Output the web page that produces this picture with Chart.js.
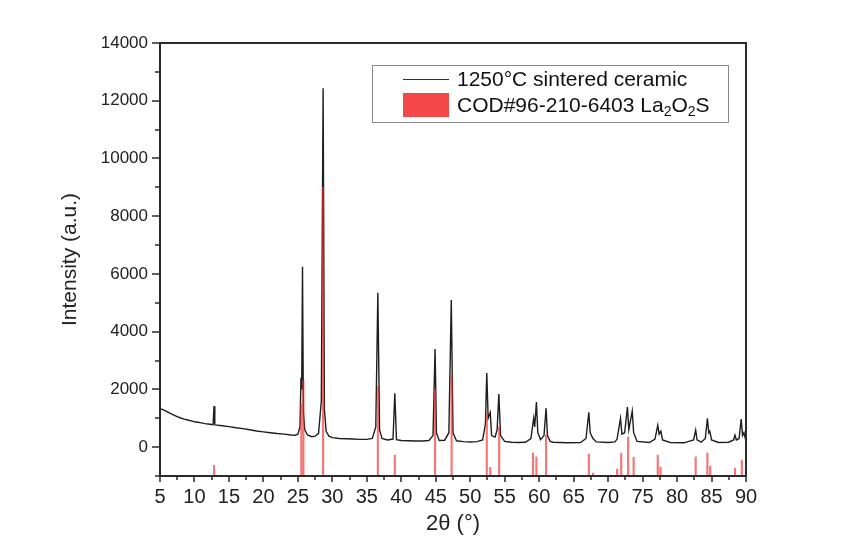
<!DOCTYPE html>
<html>
<head>
<meta charset="utf-8"/>
<script src="https://cdn.jsdelivr.net/npm/chart.js@4.4.1/dist/chart.umd.min.js"></script>
<style>
  body { margin: 0; background: #fff; }
</style>
</head>
<body>
<canvas id="chart" width="853" height="549"></canvas>
<script>
// measured XRD profile (2theta, counts)
var profileAngle = [5, 5.5, 6, 6.5, 7, 7.5, 8, 8.5, 9, 9.5, 10, 10.5, 11, 11.5, 12, 12.5, 12.7, 12.84, 12.95, 13, 14, 15, 16, 17, 18, 19, 20, 21, 22, 23, 24, 24.6,
  25.0, 25.3, 25.45, 25.55, 25.67, 25.8, 26.0, 26.4, 27, 27.5, 28.0, 28.4, 28.66, 28.85, 29.1, 29.5, 30, 31, 32, 33, 34, 35, 35.8, 36.3, 36.6, 36.85, 37.2, 38, 38.8,
  39.06, 39.3, 40, 41, 42, 43, 44, 44.6, 44.9, 45.1, 45.5, 46.3, 46.9, 47.25, 47.5, 48, 49, 50, 51, 51.8, 52.2, 52.4, 52.6, 52.9, 53.1, 53.6, 53.9, 54.15, 54.4,
  55, 56, 57, 58, 58.8, 59.2, 59.35, 59.6, 59.8, 60.2, 60.7, 61.0, 61.2, 61.6, 62, 64, 66, 66.8, 67.2, 67.4, 67.8, 68.3, 70, 71, 71.3, 71.8, 72.0, 72.4, 72.8,
  73.0, 73.5, 73.7, 74.2, 76, 76.8, 77.2, 77.4, 77.65, 77.9, 79, 81, 82.4, 82.7, 82.9, 83.5, 84.1, 84.4, 84.6, 84.75, 85, 86, 87.5, 88.2, 88.4, 88.6, 89.0, 89.3,
  89.5, 89.7, 90];
var profileCounts = [1330, 1290, 1230, 1170, 1110, 1060, 1010, 970, 940, 910, 880, 860, 840, 815, 800, 785, 780, 1420, 780, 770, 740, 710, 670, 640, 600, 560, 530, 500, 470, 450, 420, 410,
  450, 700, 2400, 2000, 6250, 1200, 600, 420, 360, 380, 480, 1600, 12430, 1300, 550, 380, 330, 300, 290, 280, 270, 270, 300, 700, 5350, 600, 300, 250, 280,
  1870, 260, 230, 220, 210, 210, 230, 400, 3400, 500, 230, 240, 500, 5100, 500, 220, 190, 180, 190, 250, 800, 2570, 1000, 1200, 400, 350, 600, 1840, 400,
  200, 170, 160, 170, 300, 1000, 700, 1560, 500, 260, 400, 1350, 400, 200, 170, 150, 160, 300, 1210, 500, 300, 180, 160, 180, 280, 1000, 450, 500, 1390,
  600, 1250, 500, 200, 160, 280, 760, 450, 550, 250, 160, 150, 250, 590, 250, 170, 300, 1000, 500, 550, 250, 160, 170, 250, 420, 250, 300, 970,
  400, 500, 200];

// reference card COD#96-210-6403 (2theta, top of stick; sticks start at the axis floor)
var refAngle = [12.84, 25.5, 25.8, 28.66, 36.6, 39.06, 44.9, 47.3, 52.4, 52.9, 54.2, 59.1, 59.6, 61.0, 67.2, 67.8, 71.3, 71.9, 72.9, 73.7, 77.2, 77.6, 82.7, 84.4, 84.8, 88.4, 89.4];
var refTop = [-630, 1500, 2300, 9000, 2100, -280, 2000, 2500, 1200, -700, 700, -200, -340, 420, -240, -900, -760, -210, 350, -350, -280, -690, -340, -210, -660, -730, -450];
var refFloor = -1000;

var xTicks = [5, 90, 5];          // min, max, step
var yTicks = [-1000, 14000, 1000]; // min, max, step
var seriesNames = ['1250\u00b0C sintered ceramic', 'COD#96-210-6403 La'];
var xTitle = '2\u03b8 (\u00b0)';
var yTitle = 'Intensity (a.u.)';

var profile = profileAngle.map(function (a, i) { return {x: a, y: profileCounts[i]}; });
var sticks = refAngle.map(function (a, i) { return {x: a, y: [refFloor, refTop[i]]}; });

var framePlugin = {
  id: 'frame',
  afterDatasetsDraw: function (chart) {
    var ctx = chart.ctx, a = chart.chartArea, x = chart.scales.x, y = chart.scales.y;
    ctx.save();
    ctx.strokeStyle = '#2a2a2a';
    ctx.lineWidth = 2;
    ctx.strokeRect(a.left, a.top, a.right - a.left, a.bottom - a.top);
    ctx.lineWidth = 1.5;
    ctx.beginPath();
    for (var v = yTicks[0]; v <= yTicks[1]; v += yTicks[2]) {
      var py = Math.round(y.getPixelForValue(v));
      var len = v % 2000 === 0 ? 8 : 5;
      ctx.moveTo(a.left - len, py);
      ctx.lineTo(a.left, py);
    }
    for (var u = xTicks[0]; u <= xTicks[1]; u += 2.5) {
      var px = Math.round(x.getPixelForValue(u));
      var l2 = u % 5 === 0 ? 6 : 4;
      ctx.moveTo(px, a.bottom);
      ctx.lineTo(px, a.bottom + l2);
    }
    ctx.stroke();

    // legend
    ctx.strokeStyle = '#8a8a8a';
    ctx.lineWidth = 1;
    ctx.strokeRect(372.5, 65.5, 356, 57);
    ctx.strokeStyle = '#333';
    ctx.beginPath();
    ctx.moveTo(403, 79.5);
    ctx.lineTo(449, 79.5);
    ctx.stroke();
    ctx.fillStyle = '#f44848';
    ctx.fillRect(403, 93, 46, 24);
    ctx.fillStyle = '#111';
    ctx.textBaseline = 'middle';
    ctx.font = '21px "Liberation Sans"';
    ctx.fillText(seriesNames[0], 457, 80);
    var tx = 457, ty = 106;
    ctx.fillText(seriesNames[1], tx, ty);
    tx += ctx.measureText(seriesNames[1]).width;
    var parts = [['2', 1], ['O', 0], ['2', 1], ['S', 0]];
    parts.forEach(function (p) {
      ctx.font = p[1] ? '14px "Liberation Sans"' : '21px "Liberation Sans"';
      ctx.fillText(p[0], tx, p[1] ? ty + 6 : ty);
      tx += ctx.measureText(p[0]).width;
    });
    ctx.restore();
  }
};

Chart.defaults.font.family = '"Liberation Sans", Arial, sans-serif';
Chart.defaults.color = '#222';

new Chart(document.getElementById('chart'), {
  type: 'line',
  data: {
    datasets: [{
      type: 'bar',
      label: seriesNames[1],
      data: sticks,
      backgroundColor: 'rgba(238,45,45,0.65)',
      borderWidth: 0,
      barThickness: 1.5,
      grouped: false,
      order: 0
    }, {
      type: 'line',
      label: seriesNames[0],
      data: profile,
      borderColor: '#1e1e1e',
      borderWidth: 1.4,
      pointRadius: 0,
      tension: 0,
      fill: false,
      order: 1
    }]
  },
  options: {
    responsive: false,
    animation: false,
    layout: { padding: { left: 0, top: 43, right: 107, bottom: 0 } },
    plugins: { legend: { display: false }, tooltip: { enabled: false } },
    scales: {
      x: {
        type: 'linear',
        offset: false,
        min: xTicks[0], max: xTicks[1],
        grid: { display: false, drawTicks: false, offset: false },
        border: { display: false },
        ticks: { stepSize: xTicks[2], autoSkip: false, padding: 9, font: { size: 20 }, maxRotation: 0 },
        title: { display: true, text: xTitle, font: { size: 22 }, padding: { top: 0, bottom: 12 } },
        afterFit: function (s) { s.height = 73; }
      },
      y: {
        type: 'linear',
        min: yTicks[0], max: yTicks[1],
        grid: { display: false, drawTicks: false },
        border: { display: false },
        ticks: {
          stepSize: yTicks[2], autoSkip: false, padding: 12, font: { size: 17 },
          callback: function (v) { return (v >= 0 && v % 2000 === 0) ? v : ''; }
        },
        title: { display: true, text: yTitle, font: { size: 21 }, padding: { top: 58, bottom: 0 } },
        afterFit: function (s) { s.width = 160; }
      }
    }
  },
  plugins: [framePlugin]
});
</script>
</body>
</html>
